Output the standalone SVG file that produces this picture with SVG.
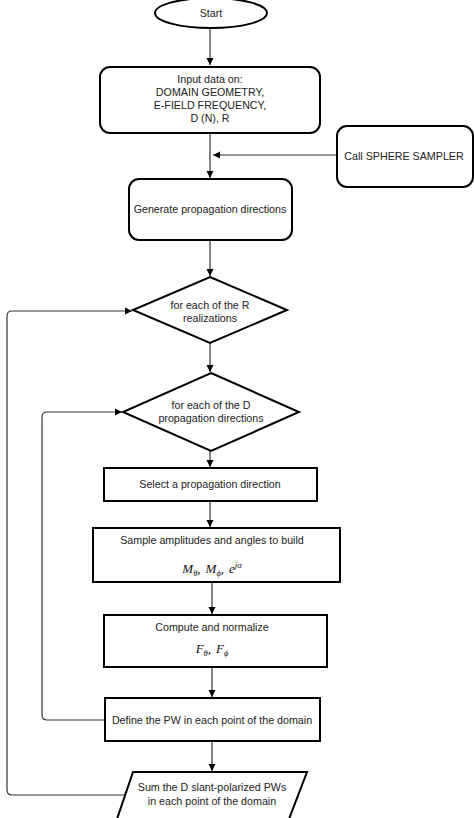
<svg xmlns="http://www.w3.org/2000/svg" width="474" height="818" viewBox="0 0 474 818">
<style>
.n{fill:#fff;stroke:#000;stroke-width:2}
.t{font-family:"Liberation Sans",Arial,sans-serif;font-size:10.7px;fill:#222;text-anchor:middle}
.m{font-family:"Liberation Serif","Times New Roman",serif;font-style:italic;font-size:13px;fill:#111;text-anchor:middle}
.s{font-size:8.5px}
.c{fill:none;stroke:#333;stroke-width:1.2}
</style>
<defs>
<marker id="a" markerWidth="8" markerHeight="8" refX="7" refY="4" orient="auto" markerUnits="userSpaceOnUse">
<path d="M0,0.5 L7,4 L0,7.5 Z" fill="#000"/>
</marker>
</defs>
<rect width="474" height="818" fill="#fff"/>
<g id="connectors">
<path class="c" d="M210,28 V65" marker-end="url(#a)"/>
<path class="c" d="M210,133 V178" marker-end="url(#a)"/>
<path class="c" d="M337,155 H213" marker-end="url(#a)"/>
<path class="c" d="M210,240 V276" marker-end="url(#a)"/>
<path class="c" d="M210,343 V372" marker-end="url(#a)"/>
<path class="c" d="M210,451 V467" marker-end="url(#a)"/>
<path class="c" d="M210,501 V527" marker-end="url(#a)"/>
<path class="c" d="M212,582 V614" marker-end="url(#a)"/>
<path class="c" d="M212,667 V697" marker-end="url(#a)"/>
<path class="c" d="M212,741 V771" marker-end="url(#a)"/>
<path class="c" d="M105,720 H47 Q42,720 42,715 V417 Q42,412 47,412 H122" marker-end="url(#a)"/>
<path class="c" d="M125,795 H12 Q7,795 7,790 V316 Q7,311 12,311 H132" marker-end="url(#a)"/>
</g>
<g id="start">
<ellipse class="n" cx="211" cy="13" rx="56" ry="15"/>
<text class="t" x="211" y="17">Start</text>
</g>
<g id="input">
<rect class="n" x="100" y="67" width="220" height="66" rx="10"/>
<text class="t" x="210" y="83">Input data on:</text>
<text class="t" x="210" y="96">DOMAIN GEOMETRY,</text>
<text class="t" x="210" y="109">E-FIELD FREQUENCY,</text>
<text class="t" x="210" y="122">D (N), R</text>
</g>
<g id="sampler">
<rect class="n" x="337" y="126" width="136" height="61" rx="10"/>
<text class="t" x="404" y="160">Call SPHERE SAMPLER</text>
</g>
<g id="generate">
<rect class="n" x="129" y="179" width="163" height="61" rx="10"/>
<text class="t" x="210" y="213">Generate propagation directions</text>
</g>
<g id="loopR">
<polygon class="n" points="210,277 287,310 210,343 133,310"/>
<text class="t" x="210" y="309">for each of the R</text>
<text class="t" x="210" y="322">realizations</text>
</g>
<g id="loopD">
<polygon class="n" points="211,373 299,412 211,451 123,412"/>
<text class="t" x="211" y="409">for each of the D</text>
<text class="t" x="211" y="422">propagation directions</text>
</g>
<g id="select">
<rect class="n" x="104" y="468" width="213" height="33"/>
<text class="t" x="210" y="488">Select a propagation direction</text>
</g>
<g id="sample">
<rect class="n" x="93" y="528" width="247" height="54"/>
<text class="t" x="212" y="544">Sample amplitudes and angles to build</text>
<text class="m" x="212" y="573">M<tspan class="s" dy="2.5">θ</tspan><tspan dy="-2.5">,</tspan><tspan dx="5">M</tspan><tspan class="s" dy="2.5">ϕ</tspan><tspan dy="-2.5">,</tspan><tspan dx="5">e</tspan><tspan class="s" dy="-5">jα</tspan></text>
</g>
<g id="compute">
<rect class="n" x="104" y="615" width="223" height="52"/>
<text class="t" x="212" y="631">Compute and normalize</text>
<text class="m" x="212" y="653">F<tspan class="s" dy="2.5">θ</tspan><tspan dy="-2.5">,</tspan><tspan dx="5">F</tspan><tspan class="s" dy="2.5">ϕ</tspan></text>
</g>
<g id="define">
<rect class="n" x="105" y="698" width="215" height="43"/>
<text class="t" x="212" y="724">Define the PW in each point of the domain</text>
</g>
<g id="sum">
<polygon class="n" points="133,772 307,772 289,819 117,819"/>
<text class="t" x="212" y="791">Sum the D slant-polarized PWs</text>
<text class="t" x="212" y="805">in each point of the domain</text>
</g>
</svg>
